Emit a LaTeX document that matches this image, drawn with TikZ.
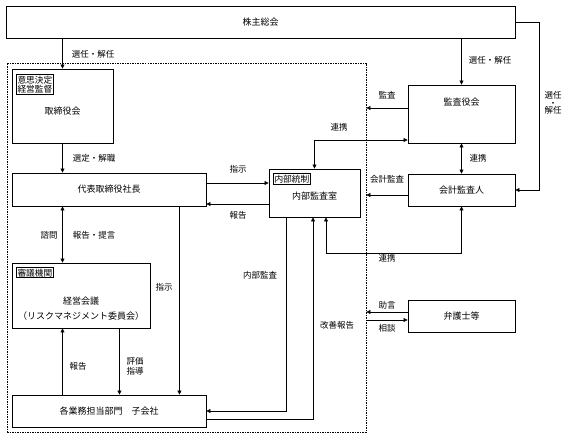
\documentclass[tikz,border=0pt]{standalone}
\usepackage{fontspec}
\setmainfont{Noto Sans CJK JP}
\usetikzlibrary{arrows.meta}

\begin{document}
\begin{tikzpicture}[x=1pt,y=-1pt,
  every node/.append style={font=\fontsize{9}{11}\selectfont},
  box/.style={draw,line width=0.9pt,inner sep=0pt},
  tag/.style={draw,line width=1pt,inner xsep=1pt,inner ysep=1.2pt,anchor=north west,
    align=left,font=\fontsize{8.7}{9.8}\selectfont},
  lbl/.style={inner sep=0pt,font=\fontsize{8.5}{10}\selectfont},
  conn/.style={line width=0.6pt,-{Triangle[length=4pt,width=4pt]}},
  conntwo/.style={line width=0.6pt,{Triangle[length=4pt,width=4pt]}-{Triangle[length=4pt,width=4pt]}}]
\useasboundingbox (0,0) rectangle (569,438);

\node[draw,line width=0.8pt,dash pattern=on 1.5pt off 1pt,minimum width=359,minimum height=369] (corp) at (186.5,247.5) {};

\node[box,minimum width=509,minimum height=32] (gm) at (260.5,22) {株主総会};
\node[box,minimum width=101,minimum height=74] (bod) at (62.5,106) {};
\node (bodtext) at (62.5,111) {取締役会};
\node[tag] (bodtag) at (16,74) {意思決定\\経営監督};
\node[box,minimum width=194,minimum height=33] (ceo) at (109,189.5) {代表取締役社長};
\node[box,minimum width=138,minimum height=65] (mc) at (81,295.5) {};
\node[align=center] (mctext) at (81,309) {経営会議\\[4pt]（リスクマネジメント委員会）};
\node[tag] (mctag) at (16,267) {審議機関};
\node[box,minimum width=194,minimum height=32] (ops) at (109,411) {各業務担当部門　子会社};
\node[box,minimum width=91,minimum height=48] (ias) at (314.5,193) {};
\node (iastext) at (314.5,196) {内部監査室};
\node[tag] (iastag) at (273,173.5) {内部統制};
\node[box,minimum width=107,minimum height=58] (kan) at (461.5,114) {};
\node (kantext) at (461.5,102) {監査役会};
\node[box,minimum width=107,minimum height=32] (acc) at (461.5,190) {会計監査人};
\node[box,minimum width=107,minimum height=32] (law) at (461.5,316) {弁護士等};

\draw[conn] (gm.south -| bod.north) -- (bod.north);
\draw[conn] (gm.south -| kan.north) -- (kan.north);
\draw[conn] (gm.east) -- ++(24,0) |- (acc.east);
\draw[conn] (bod.south) -- (bod.south |- ceo.north);
\draw[conn] ([yshift=6.5pt]ceo.east) -- ([yshift=6.5pt]ceo.east -| ias.west);
\draw[conn] ([yshift=-14.5pt]ceo.east -| ias.west) -- ([yshift=-14.5pt]ceo.east);
\draw[conntwo] (ceo.south -| bod.south) -- (mc.north -| bod.south);
\draw[conn] ([xshift=-27pt]ceo.south east) -- ([xshift=-27pt]ceo.south east |- ops.north);
\draw[conn] ([xshift=-31pt]mc.south east) -- ([xshift=-31pt]mc.south east |- ops.north);
\draw[conn] (ops.north -| bod.south) -- (mc.south -| bod.south);
\draw[conn] ([xshift=-28.5pt]ias.south) |- (ops.east);
\draw[conn] ([yshift=-8pt]ops.east) -| ([xshift=-1.5pt]ias.south);
\draw[conntwo] (ias.north) |- ([yshift=-26pt]kan.west);
\draw[conn] ([yshift=6pt]kan.west) -- ([yshift=6pt]kan.west -| corp.east);
\draw[conntwo] (kan.south) -- (acc.north);
\draw[conn] ([yshift=-5pt]acc.west) -- ([yshift=-5pt]acc.west -| corp.east);
\draw[conntwo] (acc.south) -- ++(0,47) -| ([xshift=11.5pt]ias.south);
\draw[conn] ([yshift=4pt]law.west) -- ([yshift=4pt]law.west -| corp.east);
\draw[conn] ([yshift=-4pt]law.west -| corp.east) -- ([yshift=-4pt]law.west);

\node[lbl] (lsel) at (93,54) {選任・解任};
\node[lbl] (lselk) at (490,60) {選任・解任};
\node[lbl,align=center] (lselr) at (553,103) {選任\\[-2.5pt]・\\[-2.5pt]解任};
\node[lbl] (ldis) at (94,158) {選定・解職};
\node[lbl] (lins) at (238,169) {指示};
\node[lbl] (lrep) at (238,215) {報告};
\node[lbl] (lcon) at (49,235) {諮問};
\node[lbl] (ladv) at (94,235) {報告・提言};
\node[lbl] (linsd) at (164,287) {指示};
\node[lbl] (lrepm) at (78,366) {報告};
\node[lbl,align=center] (leval) at (135,366) {評価\\指導};
\node[lbl] (lia) at (260,275) {内部監査};
\node[lbl] (limp) at (337,325) {改善報告};
\node[lbl] (laud) at (387,95) {監査};
\node[lbl] (lcoop) at (339,127) {連携};
\node[lbl] (lcoopk) at (478,158) {連携};
\node[lbl] (lacc) at (387,179) {会計監査};
\node[lbl] (lcoopl) at (387,258) {連携};
\node[lbl] (ladvl) at (387,305) {助言};
\node[lbl] (lconl) at (387,328) {相談};
\end{tikzpicture}
\end{document}
